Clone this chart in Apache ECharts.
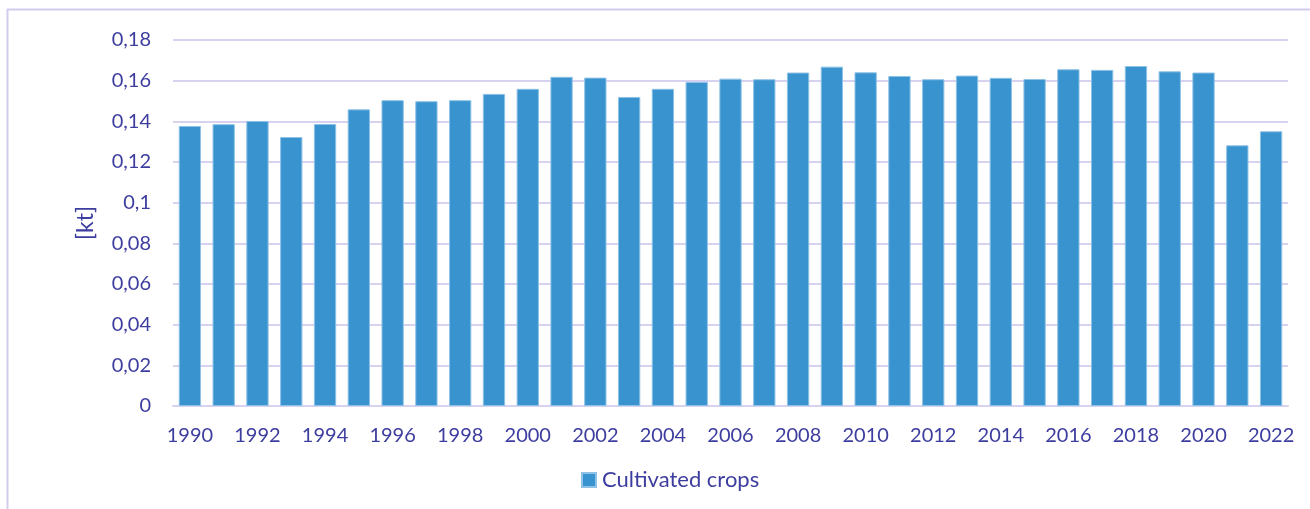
<!DOCTYPE html>
<html>
<head>
<meta charset="utf-8">
<script src="https://cdn.jsdelivr.net/npm/echarts@6/dist/echarts.min.js"></script>
<style>
html,body{margin:0;padding:0;background:#fff;}
#chart{width:1310px;height:509px;}
</style>
</head>
<body>
<div id="chart"></div>
<script>
const years = ['1990','1991','1992','1993','1994','1995','1996','1997','1998','1999','2000','2001','2002','2003','2004','2005','2006','2007','2008','2009','2010','2011','2012','2013','2014','2015','2016','2017','2018','2019','2020','2021','2022'];
const cultivatedCrops = [0.1377,0.1386,0.1402,0.1323,0.1387,0.1459,0.1504,0.1499,0.1504,0.1535,0.1560,0.1619,0.1615,0.1520,0.1560,0.1594,0.1610,0.1607,0.1640,0.1669,0.1641,0.1623,0.1607,0.1625,0.1614,0.1608,0.1656,0.1653,0.1672,0.1646,0.1640,0.1282,0.1351];
const seriesName = 'Cultivated crops';
const yAxisName = '[kt]';

const textColor = '#3d3d9f';
const gridColor = '#d6d2f0';
const font = 'Lato';

const chart = echarts.init(document.getElementById('chart'));
chart.setOption({
  animation: false,
  textStyle: { fontFamily: font },
  graphic: [
    { type: 'line', shape: { x1: 7, y1: 9.5, x2: 1310, y2: 9.5 }, style: { stroke: '#d0ccee', lineWidth: 2 } },
    { type: 'line', shape: { x1: 7.5, y1: 9, x2: 7.5, y2: 509 }, style: { stroke: '#d0ccee', lineWidth: 2 } }
  ],
  grid: { left: 173, right: 22, top: 40, bottom: 103 },
  legend: {
    left: 581, top: 469, padding: 0,
    itemWidth: 14, itemHeight: 14, itemGap: 10,
    icon: 'rect',
    textStyle: { color: textColor, fontSize: 22, fontFamily: font, padding: [0, 0, 0, 1] },
    data: [seriesName]
  },
  xAxis: {
    type: 'category',
    data: years,
    axisLine: { lineStyle: { color: gridColor, width: 2 } },
    axisTick: { show: false },
    axisLabel: { interval: 1, color: textColor, fontSize: 20, fontFamily: font, margin: 20 }
  },
  yAxis: {
    type: 'value',
    min: 0, max: 0.18, interval: 0.02,
    name: yAxisName,
    nameLocation: 'middle',
    nameGap: 76,
    nameRotate: 90,
    nameTextStyle: { color: textColor, fontSize: 23, fontFamily: font },
    axisLine: { show: false },
    axisTick: { show: false },
    splitLine: { lineStyle: { color: gridColor, width: 2 } },
    axisLabel: {
      color: textColor, fontSize: 20, fontFamily: font, margin: 22,
      formatter: v => (Math.round(v * 100) / 100).toString().replace('.', ',')
    }
  },
  series: [{
    name: seriesName,
    type: 'bar',
    data: cultivatedCrops,
    barCategoryGap: '34%',
    itemStyle: { color: '#3893cf', borderColor: '#8ec2e6', borderWidth: 1 }
  }]
});
</script>
</body>
</html>
